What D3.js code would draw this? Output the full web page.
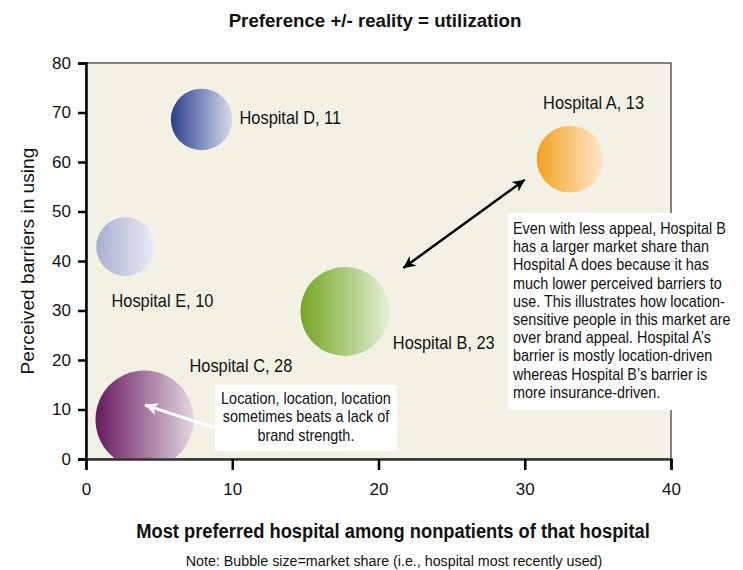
<!DOCTYPE html>
<html><head><meta charset="utf-8">
<script src="https://cdn.jsdelivr.net/npm/d3@7"></script>
<style>
html,body{margin:0;padding:0;background:#fff;}
svg{display:block;}
text{font-family:"Liberation Sans",Arial,Helvetica,sans-serif;fill:#111;}
</style></head>
<body>
<svg id="chart" width="743" height="570"></svg>
<script>
// ---- data ----
const hospitals = ["Hospital A", "Hospital B", "Hospital C", "Hospital D", "Hospital E"];
const preference = [33.1, 17.7, 4.0, 7.9, 2.7];     // x: most preferred among nonpatients
const barriers = [60.6, 29.8, 8.0, 68.6, 42.9];      // y: perceived barriers in using
const marketShare = [13, 23, 28, 11, 10];            // bubble size
const xTicks = [0, 10, 20, 30, 40];
const yTicks = [0, 10, 20, 30, 40, 50, 60, 70, 80];

const titleText = "Preference +/- reality = utilization";
const xTitle = "Most preferred hospital among nonpatients of that hospital";
const yTitle = "Perceived barriers in using";
const noteText = "Note: Bubble size=market share (i.e., hospital most recently used)";
const noteC = ["Location, location, location", "sometimes beats a lack of", "brand strength."];
const noteAB = ["Even with less appeal, Hospital B", "has a larger market share than",
  "Hospital A does because it has", "much lower perceived barriers to",
  "use. This illustrates how location-", "sensitive people in this market are",
  "over brand appeal. Hospital A\u2019s", "barrier is mostly location-driven",
  "whereas Hospital B\u2019s barrier is", "more insurance-driven."];

// ---- styling / layout ----
const gradColors = {
  "Hospital A": ["#f3a01e", "#fde9cf"],
  "Hospital B": ["#73a61f", "#e3eed5"],
  "Hospital C": ["#681a5d", "#e2d5e1"],
  "Hospital D": ["#2a3e8e", "#d6dbea"],
  "Hospital E": ["#a6afd1", "#eaecf5"]
};
// label offsets in px relative to bubble centre (text start, baseline)
const labelOffset = {
  "Hospital A": [-27, -50],
  "Hospital B": [48, 38],
  "Hospital C": [45, -47],
  "Hospital D": [38, 5],
  "Hospital E": [-14, 60]
};

// horizontally condense text via transform (emulates a narrow typeface)
function squeeze(node, f, rot) {
  const tx = +node.getAttribute("x") || 0, ty = +node.getAttribute("y") || 0;
  node.setAttribute("x", 0); node.setAttribute("y", 0);
  node.setAttribute("transform", `translate(${tx},${ty})` + (rot ? ` rotate(${rot})` : "") + ` scale(${f},1)`);
}
function condense(sel, f) { sel.each(function () { squeeze(this, f); }); }
function fitTo(sel, width, rot) {
  sel.each(function () { squeeze(this, width / this.getComputedTextLength(), rot); });
}

const svg = d3.select("#chart");
const m = {left: 86, right: 72, top: 63, bottom: 111};
const W = 743, H = 570;
const x = d3.scaleLinear().domain([0, 40]).range([m.left, W - m.right]);
const y = d3.scaleLinear().domain([0, 80]).range([H - m.bottom, m.top]);
const r = d3.scaleSqrt().domain([0, 28]).range([0, 49]);

const defs = svg.append("defs");
hospitals.forEach((h, i) => {
  const g = defs.append("linearGradient").attr("id", "g" + i)
    .attr("x1", "0%").attr("x2", "100%").attr("y1", "0%").attr("y2", "0%");
  g.append("stop").attr("offset", "0%").attr("stop-color", gradColors[h][0]);
  g.append("stop").attr("offset", "100%").attr("stop-color", gradColors[h][1]);
});
defs.append("clipPath").attr("id", "plotclip").append("rect")
  .attr("x", x(0)).attr("y", y(80)).attr("width", x(40) - x(0)).attr("height", y(0) - y(80));
defs.append("marker").attr("id", "whiteHead").attr("viewBox", "0 0 10 10")
  .attr("refX", 10).attr("refY", 5).attr("markerUnits", "userSpaceOnUse")
  .attr("markerWidth", 24).attr("markerHeight", 13).attr("orient", "auto")
  .append("path").attr("d", "M0,0 L10,5 L0,10 L3,5 Z").attr("fill", "#fff");
defs.append("marker").attr("id", "blackHead").attr("viewBox", "0 0 10 10")
  .attr("refX", 10).attr("refY", 5).attr("markerUnits", "userSpaceOnUse")
  .attr("markerWidth", 22).attr("markerHeight", 12).attr("orient", "auto-start-reverse")
  .append("path").attr("d", "M0,0 L10,5 L0,10 L3,5 Z").attr("fill", "#000");

// plot background
svg.append("rect").attr("x", x(0)).attr("y", y(80))
  .attr("width", x(40) - x(0)).attr("height", y(0) - y(80))
  .attr("fill", "#f3f1e3").attr("stroke", "#333").attr("stroke-width", 1.2);

// bubbles
const gB = svg.append("g").attr("clip-path", "url(#plotclip)");
gB.selectAll("circle").data(hospitals).join("circle")
  .attr("cx", (d, i) => x(preference[i]))
  .attr("cy", (d, i) => y(barriers[i]))
  .attr("r", (d, i) => r(marketShare[i]))
  .attr("fill", (d, i) => `url(#g${i})`);

// bubble labels
svg.append("g").selectAll("text").data(hospitals).join("text")
  .attr("x", (d, i) => x(preference[i]) + labelOffset[d][0])
  .attr("y", (d, i) => y(barriers[i]) + labelOffset[d][1])
  .attr("font-size", 18)
  .text((d, i) => `${d}, ${marketShare[i]}`)
  .call(condense, 0.91);

// axes
const yAxis = svg.append("g").attr("transform", `translate(${x(0)},0)`)
  .call(d3.axisLeft(y).tickValues(yTicks).tickSize(8).tickPadding(7));
yAxis.select(".domain").attr("stroke", "#000").attr("stroke-width", 2.5);
yAxis.selectAll(".tick line").attr("stroke", "#000").attr("stroke-width", 2.5);
yAxis.selectAll(".tick text").attr("font-size", 17).attr("fill", "#111")
  .style("font-family", "'Liberation Sans',Arial,sans-serif");

const xAxis = svg.append("g").attr("transform", `translate(0,${y(0)})`)
  .call(d3.axisBottom(x).tickValues(xTicks).tickSize(11).tickPadding(13));
xAxis.select(".domain").attr("stroke", "#333").attr("stroke-width", 2.5);
xAxis.selectAll(".tick line").attr("stroke", "#000").attr("stroke-width", 2.5);
xAxis.selectAll(".tick text").attr("font-size", 17).attr("fill", "#111")
  .style("font-family", "'Liberation Sans',Arial,sans-serif");

// titles
svg.append("text").attr("x", 375).attr("y", 27).attr("text-anchor", "middle")
  .attr("font-size", 19).attr("font-weight", "bold").text(titleText).call(fitTo, 293);
svg.append("text").attr("x", 393).attr("y", 538).attr("text-anchor", "middle")
  .attr("font-size", 21).attr("font-weight", "bold").text(xTitle).call(fitTo, 514);
svg.append("text").attr("x", 394).attr("y", 566).attr("text-anchor", "middle")
  .attr("font-size", 15).text(noteText).call(fitTo, 417);
svg.append("text").attr("x", 34).attr("y", (y(0) + y(80)) / 2)
  .attr("text-anchor", "middle").attr("font-size", 19).text(yTitle).call(fitTo, 227, -90);

// annotation: box C
svg.append("rect").attr("x", x(8.82)).attr("y", y(14.95))
  .attr("width", x(21.26) - x(8.82)).attr("height", y(1.6) - y(14.95)).attr("fill", "#fff");
svg.append("g").selectAll("text").data(noteC).join("text")
  .attr("x", (x(8.82) + x(21.26)) / 2).attr("y", (d, i) => y(14.95) + 19 + i * 18.5)
  .attr("text-anchor", "middle").attr("font-size", 16).text(d => d)
  .call(condense, 0.9);
svg.append("line").attr("x1", x(8.82)).attr("y1", y(6.3)).attr("x2", x(4.03)).attr("y2", y(10.9))
  .attr("stroke", "#fff").attr("stroke-width", 3).attr("marker-end", "url(#whiteHead)");

// annotation: box A/B
svg.append("rect").attr("x", x(28.85)).attr("y", y(49.7))
  .attr("width", W - 5 - x(28.85)).attr("height", y(9.9) - y(49.7)).attr("fill", "#fff");
svg.append("g").selectAll("text").data(noteAB).join("text")
  .attr("x", x(28.85) + 5).attr("y", (d, i) => y(49.7) + 21 + i * 18.2)
  .attr("font-size", 16).text(d => d)
  .call(condense, 0.9);
svg.append("line").attr("x1", x(21.7)).attr("y1", y(38.6)).attr("x2", x(30.0)).attr("y2", y(56.4))
  .attr("stroke", "#000").attr("stroke-width", 2.5)
  .attr("marker-start", "url(#blackHead)").attr("marker-end", "url(#blackHead)");
</script>
</body></html>
